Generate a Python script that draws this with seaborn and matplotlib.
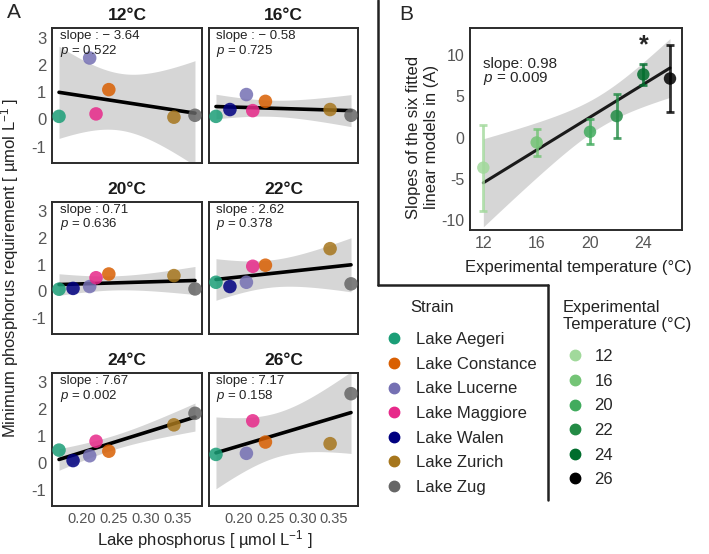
import numpy as np
import pandas as pd
import seaborn as sns
import matplotlib.pyplot as plt
from matplotlib.lines import Line2D

# ---- data ----
lakes = ["Lake Aegeri", "Lake Constance", "Lake Lucerne", "Lake Maggiore",
         "Lake Walen", "Lake Zurich", "Lake Zug"]
lake_colors = ["#1B9E77", "#D95F02", "#7570B3", "#E7298A", "#000080", "#A6761D", "#666666"]
lake_p = [0.164, 0.242, 0.212, 0.222, 0.186, 0.344, 0.377]

# minimum P requirement per strain (order as in lakes), nan = no data
req_12 = [0.11, 1.09, 2.25, 0.20, np.nan, 0.08, 0.15]
req_16 = [0.11, 0.66, 0.91, 0.32, 0.36, 0.36, 0.15]
req_20 = [0.08, 0.65, 0.18, 0.51, 0.11, 0.59, 0.09]
req_22 = [0.34, 0.98, 0.34, 0.94, 0.18, 1.60, 0.28]
req_24 = [0.48, 0.44, 0.27, 0.81, 0.09, 1.42, 1.85]
req_26 = [0.32, 0.78, 0.36, 1.57, np.nan, 0.72, 2.58]

temps = [12, 16, 20, 22, 24, 26]
slope_text = ["\u2212 3.64", "\u2212 0.58", "0.71", "2.62", "7.67", "7.17"]
p_text = ["0.522", "0.725", "0.636", "0.378", "0.002", "0.158"]

# panel B: slopes of the six models with error bar half widths
slopes = [-3.64, -0.58, 0.71, 2.62, 7.67, 7.17]
slope_err = [5.2, 1.65, 1.5, 2.7, 1.3, 4.1]
temp_colors = ["#A1D99B", "#74C476", "#41AB5D", "#238B45", "#006D2C", "#000000"]

# t quantiles (0.975) for the confidence bands
t975 = {4: 2.776, 5: 2.571}

sns.set_theme(style="white")
plt.rcParams["font.family"] = ["Liberation Sans", "DejaVu Sans"]
plt.rcParams["mathtext.fontset"] = "custom"
plt.rcParams["mathtext.rm"] = "Liberation Sans"
plt.rcParams["mathtext.it"] = "Liberation Sans:italic"
plt.rcParams["axes.unicode_minus"] = False

W, H = 709, 554
fig = plt.figure(figsize=(W / 100, H / 100), dpi=100)


def box(l, t, r, b):
    return [l / W, 1 - b / H, (r - l) / W, (b - t) / H]


def lm_band(x, y, w=None):
    x = np.asarray(x, float)
    y = np.asarray(y, float)
    w = np.ones_like(x) if w is None else np.asarray(w, float)
    xm = np.sum(w * x) / w.sum()
    ym = np.sum(w * y) / w.sum()
    sxx = np.sum(w * (x - xm) ** 2)
    b = np.sum(w * (x - xm) * (y - ym)) / sxx
    a = ym - b * xm
    s2 = np.sum(w * (y - a - b * x) ** 2) / (len(x) - 2)
    grid = np.linspace(x.min(), x.max(), 100)
    fit = a + b * grid
    se = np.sqrt(s2 * (1 / w.sum() + (grid - xm) ** 2 / sxx))
    half = t975[len(x) - 2] * se
    return grid, fit, fit - half, fit + half


def style_box(ax):
    for sp in ax.spines.values():
        sp.set_visible(True)
        sp.set_color("#2b2b2b")
        sp.set_linewidth(1.4)
    ax.grid(False)


# ---- panel A ----
requirements = [req_12, req_16, req_20, req_22, req_24, req_26]
cols = [(52, 202), (209, 358)]
rows = [(28, 163), (202, 334), (373, 506)]
palette = dict(zip(lakes, lake_colors))

for i, (t, req) in enumerate(zip(temps, requirements)):
    r, c = divmod(i, 2)
    ax = fig.add_axes(box(cols[c][0], rows[r][0], cols[c][1], rows[r][1]))
    df = pd.DataFrame({"lake": lakes, "lake_p": lake_p, "req": req}).dropna()
    gx, fit, lo, hi = lm_band(df["lake_p"], df["req"])
    ax.fill_between(gx, lo, hi, color="#999999", alpha=0.4, lw=0)
    ax.plot(gx, fit, color="black", lw=2.6)
    sns.scatterplot(data=df, x="lake_p", y="req", hue="lake", palette=palette,
                    s=95, alpha=0.85, linewidth=0, legend=False, ax=ax, zorder=3)
    ax.set_xlim(0.153, 0.388)
    ax.set_ylim(-1.6, 3.35)
    ax.set_xticks([0.20, 0.25, 0.30, 0.35])
    ax.set_xticklabels(["0.20", "0.25", "0.30", "0.35"])
    ax.set_yticks([-1, 0, 1, 2, 3])
    ax.set_xlabel("")
    ax.set_ylabel("")
    ax.tick_params(length=0, colors="#555555", pad=4)
    ax.tick_params(axis="y", labelsize=12)
    ax.tick_params(axis="x", labelsize=10.5)
    if c == 1:
        ax.tick_params(labelleft=False)
    if r < 2:
        ax.tick_params(labelbottom=False)
    ax.set_title(f"{t}°C", fontsize=12.5, fontweight="bold", pad=6, color="#1a1a1a")
    ax.text(0.05, 0.94, f"slope : {slope_text[i]}", transform=ax.transAxes,
            fontsize=9.5, va="center", color="#222222")
    ax.text(0.05, 0.83, f"$p$ = {p_text[i]}", transform=ax.transAxes,
            fontsize=9.5, va="center", color="#222222")
    style_box(ax)

fig.text(10 / W, 1 - 268 / H, "Minimum phosphorus requirement [ µmol L$^{-1}$ ]",
         rotation=90, ha="center", va="center", fontsize=12, color="#222222")
fig.text(205 / W, 1 - 540 / H, "Lake phosphorus [ µmol L$^{-1}$ ]",
         ha="center", va="center", fontsize=12, color="#222222")
fig.text(7 / W, 1 - 12 / H, "A", fontsize=15, va="center", ha="left")

# ---- panel B ----
axb = fig.add_axes(box(470, 28, 682, 230))
dfb = pd.DataFrame({"temp": temps, "slope": slopes, "err": slope_err})
gx, fit, lo, hi = lm_band(dfb["temp"], dfb["slope"], 1 / dfb["err"] ** 2)
axb.fill_between(gx, lo, hi, color="#999999", alpha=0.4, lw=0)
axb.plot(gx, fit, color="#1a1a1a", lw=2.2)
for t, s, e, col in zip(temps, slopes, slope_err, temp_colors):
    axb.errorbar(t, s, yerr=e, color=col, lw=2, capsize=3, capthick=2, alpha=0.8, zorder=3)
sns.scatterplot(data=dfb, x="temp", y="slope", hue="temp",
                palette=dict(zip(temps, temp_colors)), s=80, alpha=0.85,
                linewidth=0, legend=False, ax=axb, zorder=4)
axb.text(24, 11.2, "*", ha="center", va="center", fontsize=18, fontweight="bold")
axb.text(0.06, 0.82, "slope: 0.98", transform=axb.transAxes, fontsize=11, va="center")
axb.text(0.06, 0.75, "$p$ = 0.009", transform=axb.transAxes, fontsize=11, va="center")
axb.set_xlim(11.0, 26.9)
axb.set_ylim(-11.2, 13.3)
axb.set_xticks([12, 16, 20, 24])
axb.set_yticks([-10, -5, 0, 5, 10])
axb.tick_params(length=0, labelsize=11.5, colors="#555555", pad=4)
axb.set_xlabel("Experimental temperature (°C)", fontsize=12, color="#222222")
axb.set_ylabel("Slopes of the six fitted\nlinear models in (A)", fontsize=12,
               color="#222222", linespacing=1.3)
axb.xaxis.set_label_coords(0.51, -0.15)
axb.yaxis.set_label_coords(-0.145, 0.46)
style_box(axb)
fig.text(399 / W, 1 - 15 / H, "B", fontsize=15, va="center", ha="left")

# separator lines
for xs, ys in [((378, 378), (0, 285)), ((378, 548), (285, 285)), ((548, 548), (285, 500))]:
    fig.add_artist(Line2D([x / W for x in xs], [1 - y / H for y in ys],
                          color="#222222", lw=1.8))

# ---- legends ----
fs = 12
h1 = [Line2D([], [], marker="o", ls="", color=c, markersize=7.5) for c in lake_colors]
fig.legend(h1, lakes, loc="upper left", bbox_to_anchor=(386 / W, 1 - 332 / H),
           frameon=False, fontsize=fs, handlelength=0.95, handletextpad=0.85,
           labelspacing=0.58, borderpad=0, borderaxespad=0)
fig.text(410 / W, 1 - 308 / H, "Strain", fontsize=fs, va="center", color="#222222")

h2 = [Line2D([], [], marker="o", ls="", color=c, markersize=7.5) for c in temp_colors]
fig.legend(h2, [str(t) for t in temps], loc="upper left",
           bbox_to_anchor=(567 / W, 1 - 349 / H), frameon=False, fontsize=fs,
           handlelength=0.95, handletextpad=0.7, labelspacing=0.58,
           borderpad=0, borderaxespad=0)
fig.text(563 / W, 1 - 316 / H, "Experimental\nTemperature (°C)", fontsize=fs,
         va="center", color="#222222", linespacing=1.15)

fig.savefig("out.png", dpi=100)
